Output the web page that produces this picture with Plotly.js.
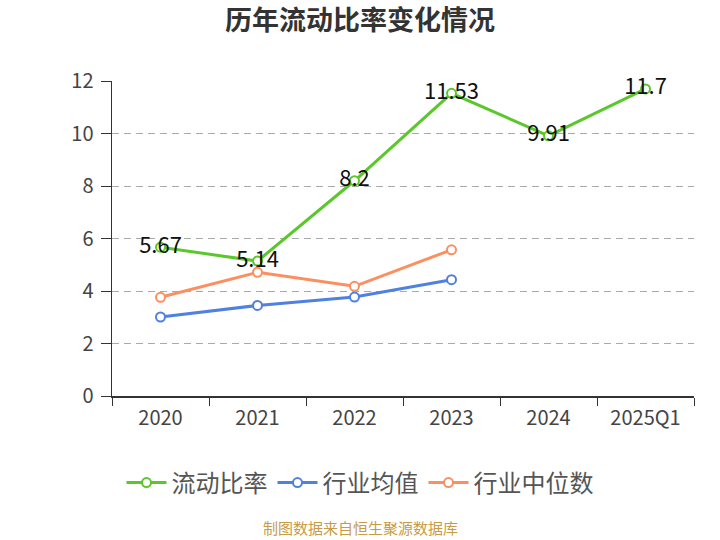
<!DOCTYPE html>
<html>
<head>
<meta charset="utf-8">
<script src="https://cdn.plot.ly/plotly-3.0.1.min.js"></script>
<style>
  html, body { margin: 0; padding: 0; background: #fff; }
  #chart { width: 720px; height: 540px; }
</style>
</head>
<body>
<div id="chart"></div>
<script>
// categories and series
var years = ['2020', '2021', '2022', '2023', '2024', '2025Q1'];
var currentRatio = [5.67, 5.14, 8.2, 11.53, 9.91, 11.7];
var industryMean = [3.01, 3.45, 3.77, 4.43];
var industryMedian = [3.76, 4.71, 4.18, 5.57];

var font = '"Noto Sans CJK SC", "Noto Sans", sans-serif';
var centerX = (360 - 112) / 582; // page centre in plot-area fractions

function lineTrace(name, y, color, withText) {
    var t = {
        x: years.slice(0, y.length),
        y: y,
        name: name,
        type: 'scatter',
        mode: withText ? 'lines+markers+text' : 'lines+markers',
        line: {color: color, width: 3},
        marker: {symbol: 'circle', size: 9, color: '#fff', line: {color: color, width: 2}},
        cliponaxis: false
    };
    if (withText) {
        t.text = y.map(String);
        t.textposition = 'middle center';
        t.textfont = {family: font, size: 22, color: '#111'};
    }
    return t;
}

var data = [
    lineTrace('流动比率', currentRatio, '#5ac72a', true),
    lineTrace('行业均值', industryMean, '#5080e0', false),
    lineTrace('行业中位数', industryMedian, '#fb8f5f', false)
];

var layout = {
    width: 720,
    height: 540,
    margin: {l: 112, r: 26, t: 81, b: 144},
    paper_bgcolor: '#fff',
    plot_bgcolor: '#fff',
    font: {family: font, color: '#333'},
    title: {
        text: '<b>历年流动比率变化情况</b>',
        font: {family: font, size: 27, color: '#333'},
        x: 0.5, xanchor: 'center', y: 0.962, yanchor: 'middle'
    },
    xaxis: {
        type: 'category',
        range: [-0.5, years.length - 0.5],
        tickson: 'boundaries',
        ticks: 'outside', ticklen: 8, tickcolor: '#333',
        showline: true, linecolor: '#333', linewidth: 1.5,
        showgrid: false,
        tickfont: {family: font, size: 20, color: '#444'},
        ticklabelstandoff: 3,
        fixedrange: true
    },
    yaxis: {
        range: [0, 12],
        dtick: 2,
        ticks: 'outside', ticklen: 10, tickcolor: '#333',
        showline: true, linecolor: '#333', linewidth: 1.5,
        showgrid: true, gridcolor: '#aaa', griddash: '7px,5px', gridwidth: 1,
        zeroline: false,
        tickfont: {family: font, size: 20, color: '#444'},
        ticklabelstandoff: 3,
        fixedrange: true
    },
    showlegend: true,
    legend: {
        orientation: 'h',
        x: centerX, xanchor: 'center',
        y: -0.276, yanchor: 'middle',
        font: {family: font, size: 24, color: '#555'},
        itemwidth: 40
    },
    annotations: [{
        text: '制图数据来自恒生聚源数据库',
        xref: 'paper', yref: 'paper',
        x: centerX, xanchor: 'center',
        y: -0.418, yanchor: 'middle',
        showarrow: false,
        font: {family: font, size: 15, color: '#c89b45'}
    }]
};

Plotly.newPlot('chart', data, layout, {displayModeBar: false, staticPlot: true});
</script>
</body>
</html>
